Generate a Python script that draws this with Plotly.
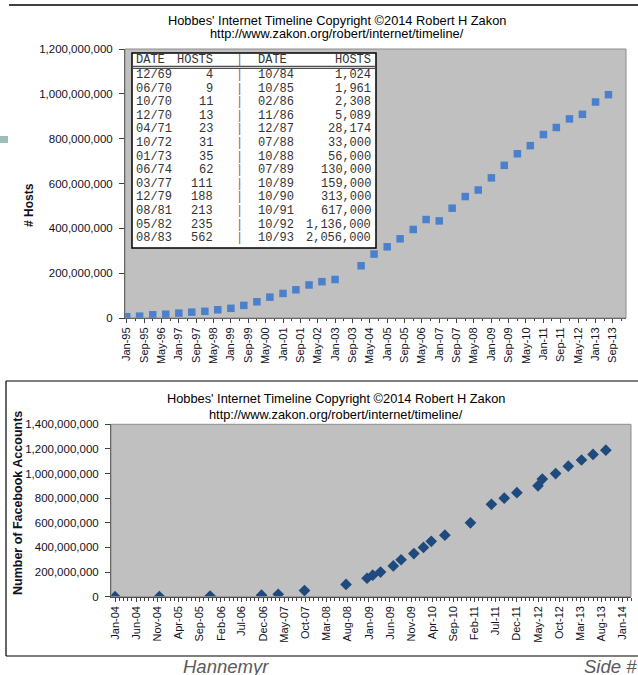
import plotly.graph_objects as go

W, H = 638, 675

# ---------------- data ----------------
hosts_dates = ["1995-01-01", "1995-07-01", "1996-01-01", "1996-07-01", "1997-01-01", "1997-07-01",
               "1998-01-01", "1998-07-01", "1999-01-01", "1999-07-01", "2000-01-01", "2000-07-01",
               "2001-01-01", "2001-07-01", "2002-01-01", "2002-07-01", "2003-01-01",
               "2004-01-01", "2004-07-01", "2005-01-01", "2005-07-01", "2006-01-01", "2006-07-01",
               "2007-01-01", "2007-07-01", "2008-01-01", "2008-07-01", "2009-01-01", "2009-07-01",
               "2010-01-01", "2010-07-01", "2011-01-01", "2011-07-01", "2012-01-01", "2012-07-01",
               "2013-01-01", "2013-07-01"]
hosts_values = [5846000, 8200000, 14352000, 16729000, 21819000, 26053000,
                29670000, 36739000, 43230000, 56218000, 72398092, 93047785,
                109574429, 125888197, 147344723, 162128493, 171638297,
                233101481, 285139107, 317646084, 353284187, 394991609, 439286364,
                433193199, 489774269, 541677360, 570937778, 625226456, 681064561,
                732740444, 768913036, 818374269, 849869781, 888239420, 908585739,
                963518598, 996230757]

fb_dates = ["2004-01-01", "2004-11-15", "2005-11-15", "2006-11-20", "2007-03-20", "2007-09-25",
            "2008-07-20", "2008-12-18", "2009-01-28", "2009-03-25", "2009-06-25", "2009-08-20",
            "2009-11-20", "2010-01-28", "2010-03-25", "2010-07-01", "2011-01-01", "2011-06-01",
            "2011-09-01", "2011-12-01", "2012-05-01", "2012-06-01", "2012-09-05", "2012-12-05",
            "2013-03-10", "2013-06-01", "2013-09-01"]
fb_values = [0, 1000000, 5500000, 12000000, 20000000, 50000000,
             100000000, 150000000, 175000000, 200000000, 250000000, 300000000,
             350000000, 400000000, 450000000, 500000000, 600000000, 750000000,
             800000000, 845000000, 900000000, 955000000, 1000000000, 1060000000,
             1110000000, 1155000000, 1190000000]

table_left_dates = ["12/69", "06/70", "10/70", "12/70", "04/71", "10/72", "01/73",
                    "06/74", "03/77", "12/79", "08/81", "05/82", "08/83"]
table_left_hosts = ["4", "9", "11", "13", "23", "31", "35", "62", "111", "188", "213", "235", "562"]
table_right_dates = ["10/84", "10/85", "02/86", "11/86", "12/87", "07/88", "10/88",
                     "07/89", "10/89", "10/90", "10/91", "10/92", "10/93"]
table_right_hosts = ["1,024", "1,961", "2,308", "5,089", "28,174", "33,000", "56,000",
                     "130,000", "159,000", "313,000", "617,000", "1,136,000", "2,056,000"]

title_line1 = "Hobbes' Internet Timeline Copyright ©2014 Robert H Zakon"
title_line2 = "http://www.zakon.org/robert/internet/timeline/"


def px(x):
    return x / W


def py(y):
    return 1 - y / H


SANS = "Liberation Sans, Arial, sans-serif"
MONO = "Liberation Mono, Courier New, monospace"
AX = "#404040"
TXT = "#111122"

fig = go.Figure()
fig.add_trace(go.Scatter(x=hosts_dates, y=hosts_values, mode="markers",
                         marker=dict(symbol="square", size=7.5, color="#4A80CC"),
                         xaxis="x", yaxis="y", showlegend=False))
fig.add_trace(go.Scatter(x=fb_dates, y=fb_values, mode="markers",
                         marker=dict(symbol="diamond", size=9, color="#1F4A7E"),
                         xaxis="x2", yaxis="y2", showlegend=False))

common_x = dict(type="date", tickformat="%b-%y", tickangle=-90, ticks="outside", ticklen=4,
                tickcolor=AX, showline=True, linecolor=AX, linewidth=1, showgrid=False,
                zeroline=False, tickfont=dict(family=SANS, size=11, color=TXT), tickmode="linear")
common_y = dict(tickformat=",d", ticks="outside", ticklen=5, tickcolor=AX, showline=True,
                linecolor=AX, linewidth=1, showgrid=False, zeroline=False,
                tickfont=dict(family=SANS, size=11.5, color=TXT), ticklabelstandoff=4)

fig.update_layout(
    width=W, height=H, margin=dict(l=0, r=0, t=0, b=0, autoexpand=False),
    paper_bgcolor="white", plot_bgcolor="#C0C0C0",
    xaxis=dict(common_x, domain=[px(125), px(626)], range=["1994-12-08", "2014-03-04"],
               tick0="1995-01-01", dtick="M8", anchor="y",
               minor=dict(dtick="M4", ticks="outside", ticklen=2, tickcolor=AX, showgrid=False)),
    yaxis=dict(common_y, domain=[py(318), py(49)], range=[0, 1.2e9], dtick=2e8, anchor="x"),
    xaxis2=dict(common_x, domain=[px(111), px(631)], range=["2003-12-03", "2014-03-01"],
                tick0="2004-01-01", dtick="M5", anchor="y2",
                minor=dict(dtick="M1", ticks="outside", ticklen=3, tickcolor=AX, showgrid=False)),
    yaxis2=dict(common_y, domain=[py(596.7), py(424.3)], range=[0, 1.4e9], dtick=2e8, anchor="x2"),
)

shapes = []
# frame lines
shapes.append(dict(type="line", xref="paper", yref="paper", x0=px(9), x1=px(638), y0=py(5), y1=py(5),
                   line=dict(color="black", width=1.5)))
shapes.append(dict(type="line", xref="paper", yref="paper", x0=px(6), x1=px(638), y0=py(381), y1=py(381),
                   line=dict(color="black", width=1.2)))
shapes.append(dict(type="line", xref="paper", yref="paper", x0=px(6), x1=px(6), y0=py(381), y1=py(656),
                   line=dict(color="black", width=1.2)))
shapes.append(dict(type="line", xref="paper", yref="paper", x0=px(6), x1=px(638), y0=py(656), y1=py(656),
                   line=dict(color="black", width=1.2)))
# tab artifact
shapes.append(dict(type="rect", xref="paper", yref="paper", x0=0, x1=px(8), y0=py(143), y1=py(136),
                   fillcolor="#9DBDB8", line=dict(width=0)))
# plot borders
shapes.append(dict(type="rect", xref="paper", yref="paper", x0=px(125), x1=px(626), y0=py(318), y1=py(49),
                   line=dict(color="#8C8C8C", width=1)))
shapes.append(dict(type="rect", xref="paper", yref="paper", x0=px(111), x1=px(631), y0=py(596.7), y1=py(424.3),
                   line=dict(color="#8C8C8C", width=1)))
# table
shapes.append(dict(type="rect", xref="paper", yref="paper", x0=px(132), x1=px(376), y0=py(248), y1=py(53),
                   fillcolor="white", line=dict(color="black", width=1.5), layer="above"))
for yy in (66.3, 68.3):
    shapes.append(dict(type="line", xref="paper", yref="paper", x0=px(133), x1=px(375), y0=py(yy), y1=py(yy),
                       line=dict(color="#222222", width=1), layer="above"))
fig.update_layout(shapes=shapes)

ann = []


def text(x, y, s, size=12, family=SANS, color="black", xanchor="center", angle=0, bold=False, italic=False):
    if bold:
        s = "<b>" + s + "</b>"
    if italic:
        s = "<i>" + s + "</i>"
    ann.append(dict(x=px(x), y=py(y), xref="paper", yref="paper", text=s, showarrow=False,
                    xanchor=xanchor, yanchor="middle", textangle=angle, borderpad=0,
                    font=dict(family=family, size=size, color=color)))


# titles
text(337, 20.5, title_line1, size=12.8)
text(337, 33.5, title_line2, size=12.8)
text(335.5, 398.5, title_line1, size=12.8)
text(336, 414.5, title_line2, size=12.8)
# axis titles
text(29, 205, "# Hosts", size=12, angle=-90, bold=True, color=TXT)
text(18, 503, "Number of Facebook Accounts", size=12.5, angle=-90, bold=True, color=TXT)

# table text
TC = "#333333"
text(135, 60.5, "DATE", family=MONO, color=TC, xanchor="left")
text(214, 60.5, "HOSTS", family=MONO, color=TC, xanchor="right")
text(239, 60.5, "|", family=MONO, color="#806080")
text(257, 60.5, "DATE", family=MONO, color=TC, xanchor="left")
text(372, 60.5, "HOSTS", family=MONO, color=TC, xanchor="right")
for i in range(len(table_left_dates)):
    yy = 75 + i * 13.6
    text(135, yy, table_left_dates[i], family=MONO, color=TC, xanchor="left")
    text(214, yy, table_left_hosts[i], family=MONO, color=TC, xanchor="right")
    text(239, yy, "|", family=MONO, color="#806080")
    text(257, yy, table_right_dates[i], family=MONO, color=TC, xanchor="left")
    text(372, yy, table_right_hosts[i], family=MONO, color=TC, xanchor="right")

# footer
text(182, 666, "Hannemyr", size=18.5, color="#5A5A5A", xanchor="left", italic=True)
text(583, 666, "Side #7", size=18.5, color="#5A5A5A", xanchor="left", italic=True)

fig.update_layout(annotations=ann)
fig.write_html("out.html", config={"displayModeBar": False},
               post_script="document.body.style.margin='0px';")
